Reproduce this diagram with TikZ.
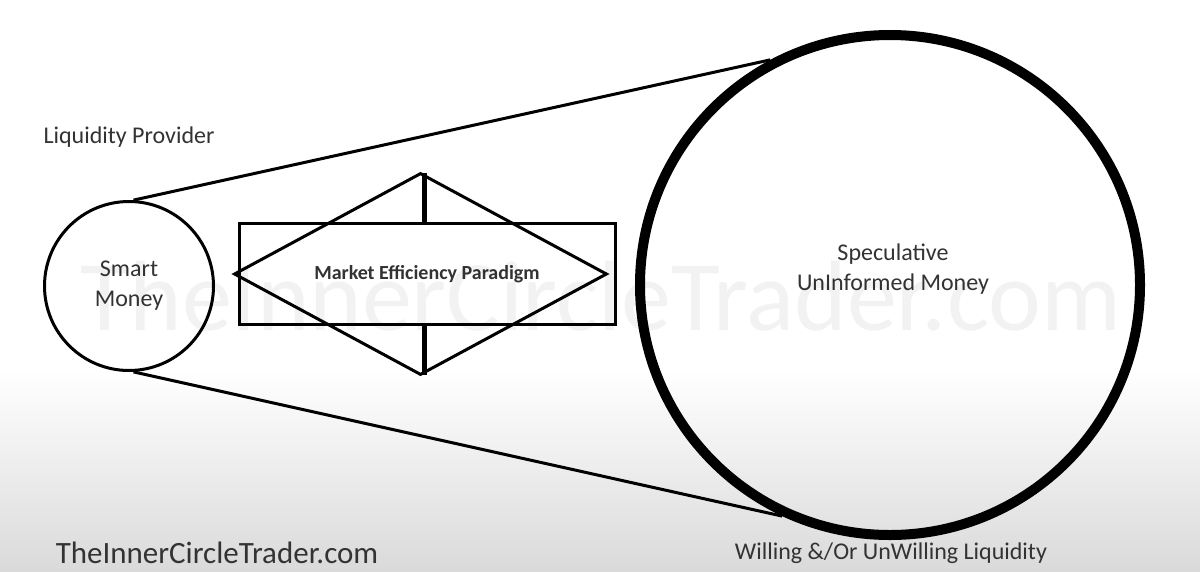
\documentclass[tikz,border=0pt]{standalone}
\usepackage{fontspec}
\setmainfont{Carlito}
\usetikzlibrary{positioning,shapes.geometric}
\definecolor{Ink}{HTML}{333333}
\definecolor{Floor}{HTML}{DADADA}

\begin{document}
\begin{tikzpicture}[x=1pt,y=-1pt,
      caption/.style={text=Ink,align=center,inner sep=0pt,
        font=\fontsize{24}{30}\selectfont},
      ring/.style={circle,draw,inner sep=0pt},
      link/.style={line width=3pt},
      watermark/.style={text=black,opacity=0.05,inner sep=0pt,
        font=\fontsize{100}{100}\selectfont}
    ]
      % page and the grey fade at its foot
      \useasboundingbox (0,0) rectangle (1200,571);
      \fill[white] (0,0) rectangle (1200,571);
      \shade[top color=white,bottom color=Floor] (0,370) rectangle (1200,571);

      \node[ring,line width=3pt,minimum size=169pt] (smart) at (129,286) {};
      \node[caption] at (smart) {Smart\\Money};
      \node[ring,line width=10pt,minimum size=500pt] (spec) at (890,285) {};
      \node[caption] at (893,269) {Speculative\\UnInformed Money};

      \draw[link] (smart.87) -- (spec.118.6);
      \draw[link] (smart.273) -- (spec.245);

      % paradigm: bar, box and diamond
      \coordinate (bartop) at (424,173);
      \coordinate (barbot) at (424,375);
      \draw[line width=5pt] (bartop) -- (barbot);
      \node[draw,fill=white,line width=3pt,minimum width=376pt,minimum height=101pt,
        inner sep=0pt] (box) at (427.5,274) {};
      \node[diamond,draw,line width=3pt,minimum width=373pt,minimum height=202pt,
        inner sep=0pt] (gem) at (420.5,274) {};
      \node[caption,font=\fontsize{20}{24}\selectfont\bfseries] (paradigm) at (427,274)
        {Market Efficiency Paradigm};

      \node[caption,above=52pt of smart] (provider) {Liquidity Provider};
      \node[caption,font=\fontsize{31}{36}\selectfont] (site) at (217,553)
        {TheInnerCircleTrader.com};
      \node[caption] (willing) at (891,553) {Willing \&/Or UnWilling Liquidity};

      % faint watermark across the middle
      \node[watermark,anchor=base] (water) at (601,330) {TheInnerCircleTrader.com};
    \end{tikzpicture}
\end{document}
